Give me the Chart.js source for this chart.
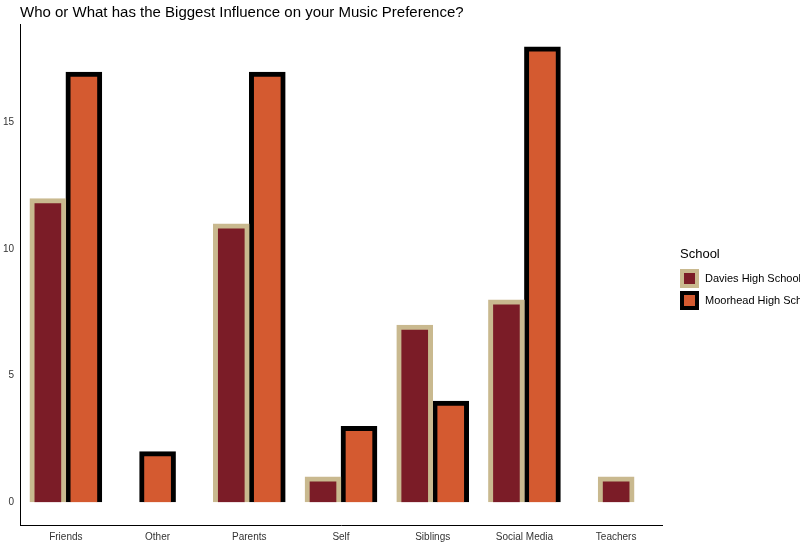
<!DOCTYPE html>
<html><head><meta charset="utf-8">
<script src="https://cdn.jsdelivr.net/npm/chart.js@4"></script>
<style>
body{margin:0;background:#fff;font-family:"Liberation Sans",Arial,sans-serif;}
#wrap{position:relative;width:800px;height:545px;overflow:hidden;}
#title{position:absolute;left:20px;top:3px;font-size:15px;color:#000;}
#legend{position:absolute;left:680px;top:246px;font-size:11px;white-space:nowrap;}
#legend .t{font-size:13px;margin-bottom:6px;}
#legend .row{display:flex;align-items:center;height:22px;}
#legend .sw{width:11px;height:11px;border:4px solid;margin-right:6px;}
</style></head><body>
<div id="wrap">
<canvas id="c" width="800" height="545"></canvas>
<div id="title">Who or What has the Biggest Influence on your Music Preference?</div>
<div id="legend"><div class="t">School</div>
<div class="row"><div class="sw" style="background:#7b1c27;border-color:#c9b98f"></div>Davies High School</div>
<div class="row"><div class="sw" style="background:#d45a30;border-color:#000"></div>Moorhead High School</div>
</div></div>
<script>
const categories=["Friends","Other","Parents","Self","Siblings","Social Media","Teachers"];
const davies=[12,null,11,1,7,8,1];
const moorhead=[17,2,17,3,4,18,null];
const yTicks=[0,5,10,15];
new Chart(document.getElementById('c'),{
type:'bar',
data:{labels:categories,datasets:[
{label:'Davies High School',data:davies,backgroundColor:'#7b1c27',borderColor:'#c9b98f',borderWidth:5,barThickness:36},
{label:'Moorhead High School',data:moorhead,backgroundColor:'#d45a30',borderColor:'#000',borderWidth:5,barThickness:36}]},
options:{responsive:false,animation:false,skipNull:true,
layout:{padding:{left:0,right:138,top:24,bottom:0}},
plugins:{legend:{display:false},title:{display:false},tooltip:{enabled:false}},
scales:{
x:{grid:{display:false,drawTicks:true,tickLength:4,color:'#333'},border:{color:'#000',width:1},
ticks:{color:'#333',font:{size:10,family:'Liberation Sans'},padding:2}},
y:{min:-0.9,max:18.9,afterBuildTicks:a=>{a.ticks=yTicks.map(v=>({value:v}));},
afterFit:a=>{a.width=20;},
grid:{display:false,drawTicks:true,tickLength:4},border:{color:'#000',width:1},
ticks:{color:'#333',font:{size:10,family:'Liberation Sans'},padding:2}}
}}});
</script></body></html>
